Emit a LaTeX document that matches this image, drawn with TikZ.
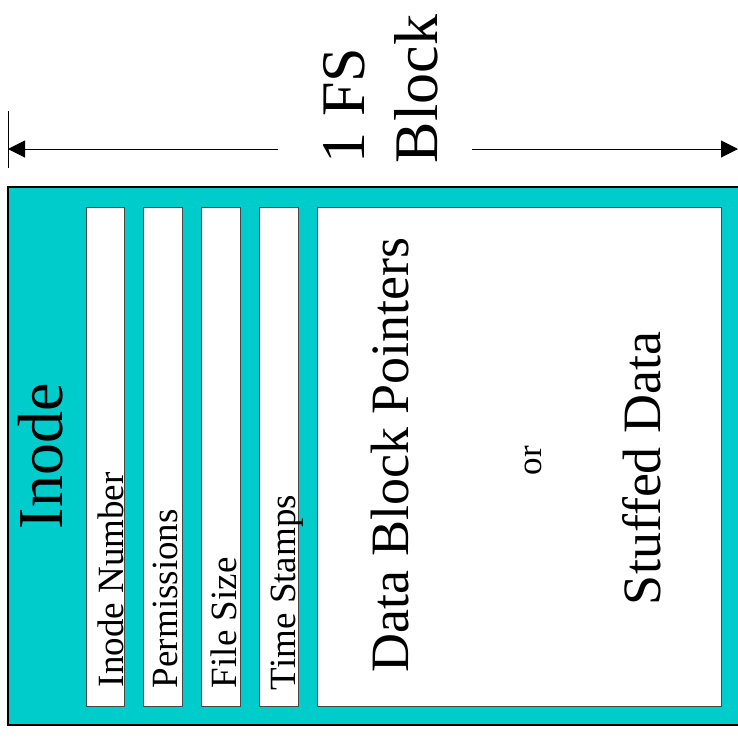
\documentclass[tikz,border=0pt]{standalone}
\usepackage{fontspec}
\setmainfont{Liberation Serif}
\usetikzlibrary{arrows.meta}
\definecolor{inodeteal}{RGB}{0,204,204}
\definecolor{boxedge}{RGB}{70,70,70}
\begin{document}
\begin{tikzpicture}[x=1pt,y=-1pt,
  outerbox/.style={draw=black,line width=1.4pt,fill=inodeteal,inner sep=0pt,outer sep=0pt,anchor=north west},
  fieldbox/.style={draw=boxedge,line width=1pt,fill=white,inner sep=0pt,outer sep=0pt,anchor=north west},
  vlabel/.style={rotate=90,anchor=base west,inner sep=0pt,outer sep=0pt},
  dimline/.style={line width=1pt,-{Triangle[length=17pt,width=17pt]}}]
\useasboundingbox (0,0) rectangle (738,740);
\clip (0,0) rectangle (738,740);

% the whole block (running past the right edge) and its inode fields
\node[outerbox,minimum width=800pt,minimum height=538pt] (block) at (8,187) {};
\node[fieldbox,minimum width=38pt,minimum height=499pt] (f1) at (86,207) {};
\node[fieldbox,minimum width=39pt,minimum height=499pt] (f2) at (143,207) {};
\node[fieldbox,minimum width=39pt,minimum height=499pt] (f3) at (201,207) {};
\node[fieldbox,minimum width=39pt,minimum height=499pt] (f4) at (259,207) {};
\node[fieldbox,minimum width=404pt,minimum height=499pt] (data) at (317,207) {};

% labels
\node[vlabel,font=\fontsize{64}{70}\selectfont] (inode) at (63,529) {Inode};
\node[vlabel,font=\fontsize{37}{40}\selectfont] (l1) at (123,687) {Inode Number};
\node[vlabel,font=\fontsize{37}{40}\selectfont] (l2) at (177,688) {Permissions};
\node[vlabel,font=\fontsize{37}{40}\selectfont] (l3) at (236,688) {File Size};
\node[vlabel,font=\fontsize{37}{40}\selectfont] (l4) at (295,690) {Time Stamps};
\node[vlabel,font=\fontsize{54}{60}\selectfont] (dbp) at (408,672) {Data Block Pointers};
\node[vlabel,font=\fontsize{35}{40}\selectfont] (or) at (541,475) {or};
\node[vlabel,font=\fontsize{54}{60}\selectfont] (stuffed) at (660,605) {Stuffed Data};

% block size dimension
\node[vlabel,font=\fontsize{62}{70}\selectfont] (title1) at (364,163) {1 FS};
\node[vlabel,font=\fontsize{62}{70}\selectfont] (title2) at (437,163) {Block};
\coordinate (tickTop) at (8,111);
\coordinate (tickBot) at (8,168);
\coordinate (leftTip) at (8,149);
\coordinate (leftEnd) at (278,149);
\coordinate (rightEnd) at (472,149);
\coordinate (rightTip) at (738,149);
\draw[line width=1pt] (tickTop) -- (tickBot);
\draw[dimline] (leftEnd) -- (leftTip);
\draw[dimline] (rightEnd) -- (rightTip);
\end{tikzpicture}
\end{document}
